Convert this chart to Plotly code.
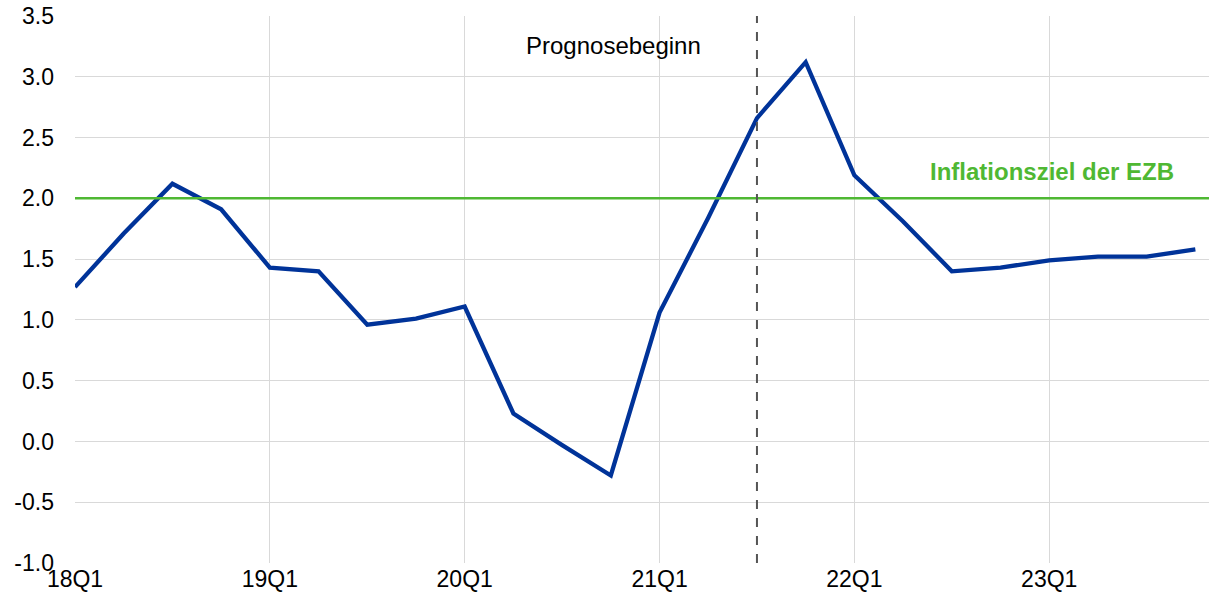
import plotly.graph_objects as go

quarters = [f"{y}Q{q}" for y in range(18, 24) for q in range(1, 5)]
inflation = [1.27, 1.71, 2.12, 1.91, 1.43, 1.40, 0.96, 1.01, 1.11, 0.23, -0.03, -0.28,
             1.06, 1.84, 2.66, 3.12, 2.19, 1.81, 1.40, 1.43, 1.49, 1.52, 1.52, 1.58]
target = 2.0
forecast_start = "21Q3"
year_ticks = ["18Q1", "19Q1", "20Q1", "21Q1", "22Q1", "23Q1"]
y_ticks = [-1.0, -0.5, 0.0, 0.5, 1.0, 1.5, 2.0, 2.5, 3.0, 3.5]

idx = list(range(len(quarters)))
tickvals = [quarters.index(t) for t in year_ticks]
fs = quarters.index(forecast_start)

fig = go.Figure()
fig.add_trace(go.Scatter(x=idx, y=inflation, mode="lines",
                         line=dict(color="#003399", width=4.3), showlegend=False))
fig.add_hline(y=target, line=dict(color="#4fb833", width=2.5))
fig.add_vline(x=fs, line=dict(color="#555555", width=2, dash="dash"))
fig.add_annotation(x=fs - 1.1, y=3.26, text="Prognosebeginn", showarrow=False,
                   xanchor="right", font=dict(size=24, color="#000000"))
fig.add_annotation(x=22.6, y=2.22, text="<b>Inflationsziel der EZB</b>", showarrow=False,
                   xanchor="right", font=dict(size=24, color="#4fb833"))

fig.update_layout(
    width=1209, height=597,
    margin=dict(l=75, r=0, t=16, b=34),
    plot_bgcolor="white", paper_bgcolor="white",
    font=dict(family="Liberation Sans, Arial, sans-serif", size=23, color="#000000"),
)
fig.update_xaxes(range=[0, 23.28], tickvals=tickvals, ticktext=year_ticks,
                 showgrid=True, gridcolor="#d9d9d9", gridwidth=1, automargin=False,
                 zeroline=False, showline=False, ticks="", ticklabelstandoff=0)
fig.update_yaxes(range=[-1.0, 3.5], tickvals=y_ticks,
                 ticktext=[f"{v:.1f}" for v in y_ticks],
                 showgrid=True, gridcolor="#d9d9d9", gridwidth=1, automargin=False,
                 zeroline=False, showline=False, ticks="", ticklabelstandoff=20)

fig.write_html("out.html", config={"displayModeBar": False},
               post_script="document.body.style.margin='0';document.body.style.overflow='hidden';")
